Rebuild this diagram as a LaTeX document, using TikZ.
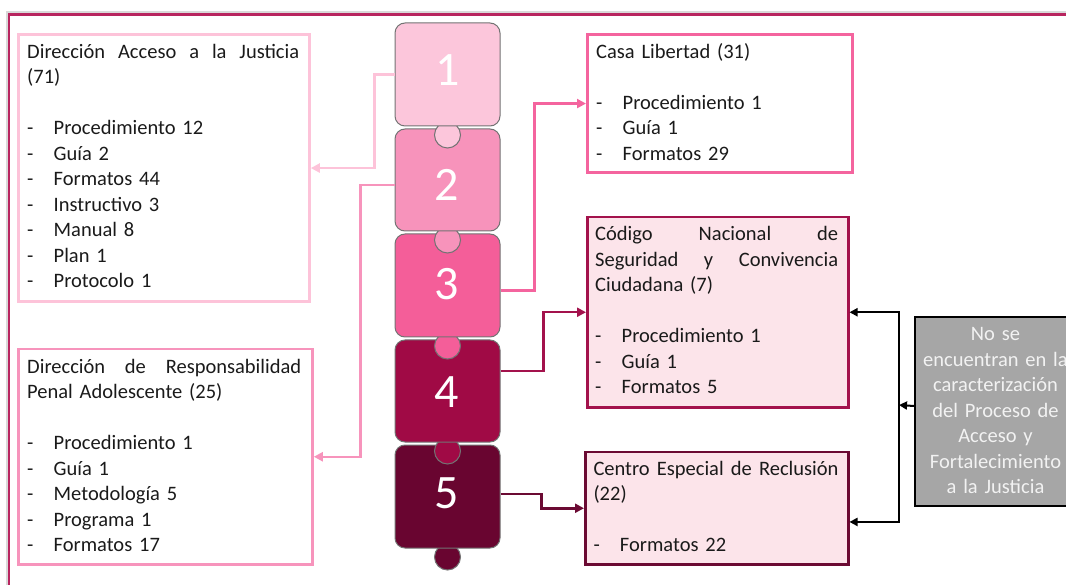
\documentclass[tikz,border=0pt]{standalone}
\usepackage{fontspec}
\setmainfont{Carlito}
\usetikzlibrary{arrows.meta}
\definecolor{cA}{HTML}{FDC3D9}
\definecolor{cB}{HTML}{F794BC}
\definecolor{cC}{HTML}{F4649E}
\definecolor{cD}{HTML}{A3124C}
\definecolor{cE}{HTML}{6B0A33}
\definecolor{pA}{HTML}{FCC6DB}
\definecolor{pB}{HTML}{F793BB}
\definecolor{pC}{HTML}{F45E99}
\definecolor{pD}{HTML}{A00A45}
\definecolor{pE}{HTML}{690530}
\definecolor{lightfill}{HTML}{FCE4EA}
\definecolor{framecol}{HTML}{B8255F}
\definecolor{txtcol}{HTML}{1A1A1A}
\definecolor{grayfill}{HTML}{A6A6A6}
\tikzset{
  box/.style={draw, line width=2.5pt, anchor=north west, inner sep=0pt},
  txt/.style={anchor=base west, inner sep=0pt, align=left, text=txtcol,
    font=\fontsize{20.5}{25.5}\selectfont},
  piece/.style={draw=gray!90!black, line width=1pt, rounded corners=10pt,
    minimum width=105pt, inner sep=0pt},
  knob/.style={draw=gray!90!black, line width=1pt},
  num/.style={inner sep=0pt, text=white, font=\fontsize{48}{50}\selectfont},
  cn/.style={line width=2.5pt, -{Triangle[length=9pt,width=9pt]}},
  blk/.style={line width=2pt, draw=black, -{Triangle[length=8pt,width=8pt]}}
}
\newcommand{\itm}[1]{\makebox[26.5pt][l]{-}#1}
\newcommand{\jline}[2]{\leavevmode\hbox to #1{#2}}
\begin{document}
\begin{tikzpicture}[x=1pt,y=-1pt]
\useasboundingbox (0,0) rectangle (1066,585);
% frame
\draw[line width=2pt, draw=gray!30] (7,585) -- (7,12.2) -- (1066,12.2);
\draw[line width=2.3pt, draw=framecol] (9,585) -- (9,14.5) -- (1066,14.5);

% puzzle pieces (bottom first so knobs overlap the piece below)
\draw[knob, fill=pE] (447.5,557) circle (13);
\node[piece, fill=pE, minimum height=103pt] (p5) at (447.5,496.5) {};
\draw[knob, fill=pD] (447.5,451) circle (13);
\node[piece, fill=pD, minimum height=102pt] (p4) at (447.5,391) {};
\draw[knob, fill=pC] (447.5,346) circle (13);
\node[piece, fill=pC, minimum height=103pt] (p3) at (447.5,285.5) {};
\draw[knob, fill=pB] (447.5,240) circle (13);
\node[piece, fill=pB, minimum height=102pt] (p2) at (447.5,180) {};
\draw[knob, fill=pA] (447.5,135) circle (13);
\node[piece, fill=pA, minimum height=103pt] (p1) at (447.5,74.5) {};
\node[num] (n1) at (448,70) {1};
\node[num] (n2) at (447,185) {2};
\node[num] (n3) at (447,284) {3};
\node[num] (n4) at (447,392) {4};
\node[num] (n5) at (447,493) {5};

% boxes
\node[box, draw=cA, minimum width=291pt, minimum height=267pt] (A) at (17.3,33.3) {};
\node[box, draw=cB, minimum width=294pt, minimum height=215pt] (B) at (17.3,348) {};
\node[box, draw=cC, minimum width=265pt, minimum height=138pt] (C) at (586,33.3) {};
\node[box, draw=cD, fill=lightfill, minimum width=261pt, minimum height=190pt] (D) at (586,216) {};
\node[box, draw=cE, fill=lightfill, minimum width=263pt, minimum height=112.6pt] (E) at (584,450.7) {};
\node[draw=black, line width=2pt, fill=grayfill, anchor=north west, inner sep=0pt,
      minimum width=163pt, minimum height=189pt] (F) at (914,316) {};

% texts
\node[txt, text width=272pt] (tA) at (27,58.3) {%
\jline{272pt}{Dirección\hfill Acceso\hfill a\hfill la\hfill Justicia}\\
(71)\\[25.5pt]
\itm{Procedimiento 12}\\
\itm{Guía 2}\\
\itm{Formatos 44}\\
\itm{Instructivo 3}\\
\itm{Manual 8}\\
\itm{Plan 1}\\
\itm{Protocolo 1}};
\node[txt, text width=274pt] (tB) at (27,373.3) {%
\jline{274pt}{Dirección\hfill de\hfill Responsabilidad}\\
Penal Adolescente (25)\\[25.5pt]
\itm{Procedimiento 1}\\
\itm{Guía 1}\\
\itm{Metodología 5}\\
\itm{Programa 1}\\
\itm{Formatos 17}};
\node[txt, text width=240pt] (tC) at (596,58.3) {%
Casa Libertad (31)\\[25.5pt]
\itm{Procedimiento 1}\\
\itm{Guía 1}\\
\itm{Formatos 29}};
\node[txt, text width=243pt] (tD) at (595,240.7) {%
\jline{243pt}{Código\hfill Nacional\hfill de}\\
\jline{243pt}{Seguridad\hfill y\hfill Convivencia}\\
Ciudadana (7)\\[25.5pt]
\itm{Procedimiento 1}\\
\itm{Guía 1}\\
\itm{Formatos 5}};
\node[txt, text width=245pt] (tE) at (593.3,475) {%
\jline{245pt}{Centro\hfill Especial\hfill de\hfill Reclusión}\\
(22)\\[25.5pt]
\itm{Formatos 22}};
\node[txt, anchor=base, align=center, text width=160pt, text=white!95!black] (tF) at (995.5,340.7) {%
No se\\ encuentran en la\\ caracterización\\ del Proceso de\\ Acceso y\\ Fortalecimiento\\ a la Justicia};

% connectors
\draw[cn, draw=cA, color=cA] (p1.west) -- ++(-20,0) |- (A.east);
\draw[cn, draw=cB, color=cB] ([yshift=-5pt]p2.west) -- ++(-34,0) |- (B.east);
\draw[cn, draw=cC, color=cC] ([yshift=-5pt]p3.east) -- ++(34,0) |- (C.west);
\draw[cn, draw=cD, color=cD] ([yshift=20pt]p4.east) -- ++(43,0) |- (D.west);
\draw[cn, draw=cE, color=cE] ([yshift=2.5pt]p5.east) -- ++(41,0) |- (E.west);

\coordinate (j) at (899,405);
\draw[blk] ([yshift=5.5pt]F.west) -- (j);
\draw[blk] (j) |- (D.east);
\draw[blk] (j) |- ([yshift=-13.7pt]E.east);
\end{tikzpicture}
\end{document}
